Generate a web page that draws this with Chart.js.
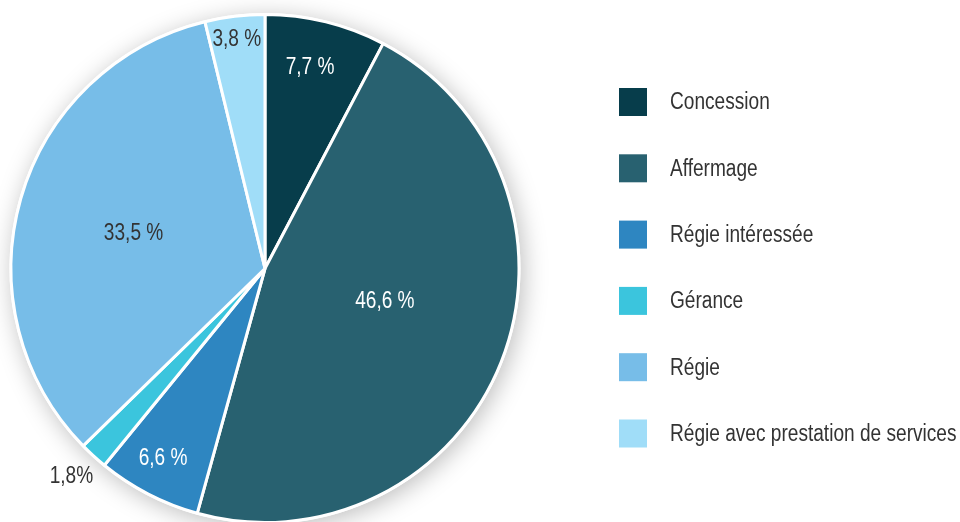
<!DOCTYPE html>
<html>
<head>
<meta charset="utf-8">
<script src="https://cdn.jsdelivr.net/npm/chart.js@4/dist/chart.umd.min.js"></script>
<style>
  html, body { margin: 0; padding: 0; background: #ffffff; }
  #wrap { position: relative; width: 960px; height: 522px; }
</style>
</head>
<body>
<div id="wrap"><canvas id="c" width="960" height="522"></canvas></div>
<script>
// Répartition des modes de gestion (en %)
const categories = [
  'Concession',
  'Affermage',
  'Régie intéressée',
  'Gérance',
  'Régie',
  'Régie avec prestation de services'
];
const shares = [7.7, 46.6, 6.6, 1.8, 33.5, 3.8];
const sliceColors = ['#073d4b', '#286170', '#2e86c1', '#3bc5dd', '#77bde8', '#a0ddf8'];

// Label placement: fraction of the radius, angular nudge (degrees),
// text colour, and separator before "%"
const labelStyle = [
  { r: 0.81,  da: -1.2, color: '#ffffff', sep: ' ' },
  { r: 0.49,  da: -6.0, color: '#ffffff', sep: ' ' },
  { r: 0.85,  da: 0.8,  color: '#ffffff', sep: ' ' },
  { r: 1.12,  da: 0.4,  color: '#333333', sep: '' },
  { r: 0.535, da: -1.3, color: '#333333', sep: ' ' },
  { r: 0.906, da: -0.2, color: '#333333', sep: ' ' }
];

// Narrow sans: Liberation Sans squeezed horizontally
const FONT = '23px "Liberation Sans", Arial, sans-serif';
const SQUEEZE = 0.83;

function narrowText(ctx, text, x, y, align) {
  ctx.save();
  ctx.translate(x, y);
  ctx.scale(SQUEEZE, 1);
  ctx.textAlign = align;
  ctx.fillText(text, 0, 0);
  ctx.restore();
}

// Soft drop shadow under the whole pie
const pieShadow = {
  id: 'pieShadow',
  beforeDatasetsDraw(chart) {
    const arc = chart.getDatasetMeta(0).data[0];
    if (!arc) return;
    const ctx = chart.ctx;
    ctx.save();
    ctx.shadowColor = 'rgba(0,0,0,0.26)';
    ctx.shadowBlur = 24;
    ctx.shadowOffsetX = 3;
    ctx.shadowOffsetY = 4;
    ctx.fillStyle = '#ffffff';
    ctx.beginPath();
    ctx.arc(arc.x, arc.y, arc.outerRadius + 1.5, 0, Math.PI * 2);
    ctx.fill();
    ctx.restore();
  }
};

// Percentage labels on the slices
const sliceLabels = {
  id: 'sliceLabels',
  afterDatasetsDraw(chart) {
    const ctx = chart.ctx;
    const meta = chart.getDatasetMeta(0);
    const values = chart.data.datasets[0].data;
    ctx.save();
    ctx.font = FONT;
    ctx.textBaseline = 'middle';
    meta.data.forEach((arc, i) => {
      const st = labelStyle[i];
      const mid = (arc.startAngle + arc.endAngle) / 2 + st.da * Math.PI / 180;
      const x = arc.x + Math.cos(mid) * arc.outerRadius * st.r;
      const y = arc.y + Math.sin(mid) * arc.outerRadius * st.r;
      ctx.fillStyle = st.color;
      narrowText(ctx, values[i].toFixed(1).replace('.', ',') + st.sep + '%', x, y, 'center');
    });
    ctx.restore();
  }
};

// Legend on the right, one swatch per category
const sideLegend = {
  id: 'sideLegend',
  afterDraw(chart) {
    const ctx = chart.ctx;
    const labels = chart.data.labels;
    const colors = chart.data.datasets[0].backgroundColor;
    ctx.save();
    ctx.font = FONT;
    ctx.textBaseline = 'middle';
    labels.forEach((lab, i) => {
      const cy = 102 + i * 66.3;
      ctx.fillStyle = colors[i];
      ctx.fillRect(619, cy - 14, 28, 28);
      ctx.fillStyle = '#333333';
      narrowText(ctx, lab, 670, cy + 1, 'left');
    });
    ctx.restore();
  }
};

new Chart(document.getElementById('c'), {
  type: 'pie',
  data: {
    labels: categories,
    datasets: [{
      data: shares,
      backgroundColor: sliceColors,
      borderColor: '#ffffff',
      borderWidth: 3,
      hoverOffset: 0
    }]
  },
  options: {
    responsive: false,
    animation: false,
    devicePixelRatio: 1,
    radius: 254,
    layout: { padding: { left: 0, right: 430, top: 15, bottom: 0 } },
    plugins: {
      legend: { display: false },
      tooltip: { enabled: false }
    }
  },
  plugins: [pieShadow, sliceLabels, sideLegend]
});
</script>
</body>
</html>
